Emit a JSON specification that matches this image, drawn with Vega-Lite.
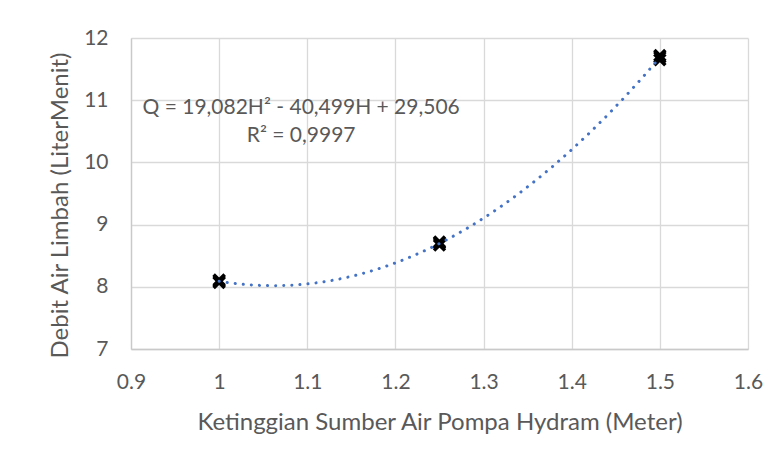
{
  "$schema": "https://vega.github.io/schema/vega-lite/v6.json",
  "autosize": {"type": "none"},
  "width": 617,
  "height": 311,
  "padding": {"left": 131, "top": 38, "right": 33, "bottom": 115},
  "background": "white",
  "config": {
    "font": "Lato",
    "view": {"stroke": null},
    "axis": {
      "labelFont": "Lato",
      "titleFont": "Lato",
      "labelColor": "#595959",
      "titleColor": "#595959",
      "labelFontSize": 21,
      "titleFontSize": 24,
      "titleFontWeight": "normal",
      "gridColor": "#d9d9d9",
      "gridWidth": 1.3,
      "domainColor": "#c9c9c9",
      "domainWidth": 1.3,
      "ticks": false,
      "tickSize": 0
    }
  },
  "datasets": {
    "obs": [
      {"h": 1.0, "q": 8.07},
      {"h": 1.0, "q": 8.09},
      {"h": 1.0, "q": 8.11},
      {"h": 1.25, "q": 8.67},
      {"h": 1.25, "q": 8.70},
      {"h": 1.25, "q": 8.72},
      {"h": 1.5, "q": 11.65},
      {"h": 1.5, "q": 11.69},
      {"h": 1.5, "q": 11.72}
    ],
    "notes": [
      {"h": 1.093, "q": 10.87, "label": "Q = 19,082H² - 40,499H + 29,506"},
      {"h": 1.093, "q": 10.43, "label": "R² = 0,9997"}
    ]
  },
  "layer": [
    {
      "data": {"name": "obs"},
      "mark": {
        "type": "point",
        "shape": "M-1,-1L1,1M-1,1L1,-1",
        "filled": false,
        "stroke": "#000000",
        "strokeWidth": 3.5,
        "size": 120,
        "opacity": 1
      },
      "encoding": {
        "x": {
          "field": "h",
          "type": "quantitative",
          "scale": {"domain": [0.9, 1.6], "nice": false, "zero": false},
          "axis": {
            "values": [0.9, 1.0, 1.1, 1.2, 1.3, 1.4, 1.5, 1.6],
            "format": ".1~f",
            "labelBaseline": "middle",
            "labelPadding": 33,
            "labelFlush": false,
            "title": "Ketinggian Sumber Air Pompa Hydram (Meter)",
            "titleBaseline": "middle",
            "titleY": 73,
            "titleX": 308.5,
            "titleAlign": "center"
          }
        },
        "y": {
          "field": "q",
          "type": "quantitative",
          "scale": {"domain": [7, 12], "nice": false, "zero": false},
          "axis": {
            "values": [7, 8, 9, 10, 11, 12],
            "format": "d",
            "labelPadding": 23,
            "labelFlush": false,
            "title": "Debit Air Limbah (LiterMenit)",
            "titleAngle": 270,
            "titleBaseline": "middle",
            "titleAlign": "center",
            "titleX": -71,
            "titleY": 167
          }
        }
      }
    },
    {
      "data": {"name": "obs"},
      "transform": [
        {"regression": "q", "on": "h", "method": "poly", "order": 2}
      ],
      "mark": {
        "type": "line",
        "color": "#4472C4",
        "strokeWidth": 3,
        "strokeCap": "round",
        "strokeDash": [0.1, 8]
      },
      "encoding": {
        "x": {"field": "h", "type": "quantitative"},
        "y": {"field": "q", "type": "quantitative"}
      }
    },
    {
      "data": {"name": "notes"},
      "mark": {"type": "text", "font": "Lato", "fontSize": 21, "color": "#595959", "align": "center", "baseline": "middle"},
      "encoding": {
        "x": {"field": "h", "type": "quantitative"},
        "y": {"field": "q", "type": "quantitative"},
        "text": {"field": "label"}
      }
    }
  ]
}
